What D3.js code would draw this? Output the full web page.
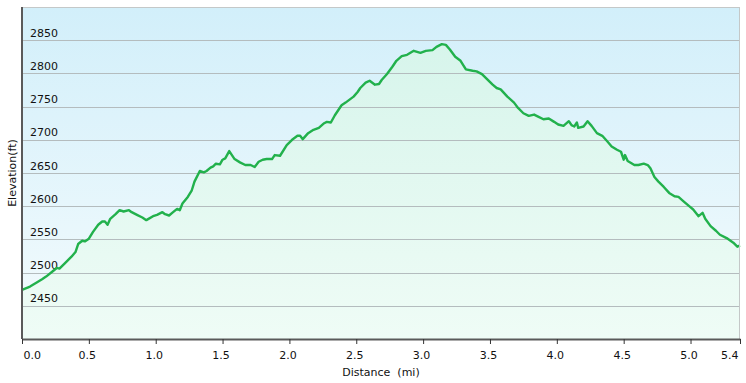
<!DOCTYPE html>
<html>
<head>
<meta charset="utf-8">
<script src="https://cdn.jsdelivr.net/npm/d3@7"></script>
<style>
  body { margin: 0; background: #fff; }
  svg text { font-family: Verdana, "DejaVu Sans", sans-serif; font-size: 11px; fill: #111; }
</style>
</head>
<body>
<div id="chart"></div>
<script>
/***** data *****/
var distances = [0.00,0.06,0.11,0.15,0.18,0.23,0.26,0.28,0.32,0.37,0.40,0.42,0.45,0.47,0.50,0.53,0.57,0.60,0.62,0.64,
  0.66,0.70,0.73,0.76,0.80,0.82,0.86,0.90,0.93,0.98,1.01,1.05,1.07,1.10,1.13,1.16,1.18,1.20,1.22,1.24,
  1.27,1.29,1.33,1.36,1.38,1.41,1.43,1.45,1.48,1.50,1.52,1.55,1.57,1.59,1.63,1.67,1.71,1.74,1.77,1.80,
  1.83,1.87,1.89,1.93,1.98,2.02,2.06,2.08,2.10,2.14,2.18,2.22,2.26,2.28,2.31,2.34,2.39,2.42,2.46,2.48,
  2.51,2.53,2.57,2.60,2.64,2.67,2.69,2.73,2.77,2.80,2.84,2.88,2.93,2.98,3.02,3.07,3.10,3.14,3.17,3.20,
  3.24,3.28,3.32,3.37,3.40,3.44,3.48,3.52,3.55,3.58,3.63,3.68,3.71,3.75,3.79,3.83,3.86,3.90,3.94,3.98,
  4.01,4.05,4.09,4.11,4.13,4.15,4.16,4.20,4.23,4.26,4.30,4.34,4.38,4.41,4.45,4.48,4.50,4.51,4.53,4.58,
  4.61,4.65,4.68,4.70,4.73,4.76,4.80,4.84,4.88,4.91,4.95,4.99,5.02,5.06,5.09,5.11,5.15,5.19,5.22,5.27,
  5.32,5.35,5.37];
var elevations = [2474,2479,2485,2490,2494,2502,2507,2506,2514,2524,2531,2543,2548,2547,2551,2561,2572,2577,2577,2572,
  2581,2588,2594,2592,2594,2591,2587,2583,2579,2585,2587,2591,2588,2586,2591,2596,2594,2604,2609,2614,
  2624,2637,2653,2651,2653,2658,2660,2664,2663,2670,2672,2683,2677,2671,2666,2662,2662,2659,2667,2670,
  2671,2671,2677,2676,2692,2700,2706,2706,2701,2710,2715,2718,2725,2727,2726,2737,2752,2756,2762,2765,
  2772,2778,2786,2789,2783,2784,2790,2799,2810,2819,2826,2828,2834,2831,2834,2835,2840,2844,2843,2836,
  2825,2819,2806,2804,2803,2799,2791,2783,2778,2776,2765,2756,2748,2740,2736,2738,2735,2731,2732,2727,
  2723,2721,2728,2722,2720,2726,2718,2720,2728,2721,2710,2706,2697,2690,2685,2682,2670,2677,2668,2662,
  2662,2664,2662,2657,2644,2637,2629,2620,2615,2614,2607,2600,2595,2585,2590,2581,2570,2563,2557,2552,
  2545,2539,2541];

var xTicks = [0, 0.5, 1.0, 1.5, 2.0, 2.5, 3.0, 3.5, 4.0, 4.5, 5.0];
var yTicks = [2450, 2500, 2550, 2600, 2650, 2700, 2750, 2800, 2850];

var profile = distances.map(function(d, i) { return {dist: d, elev: elevations[i]}; });

/***** chart parameters *****/
var width = 746;
var height = 383;
var margin = {top: 7, right: 6, bottom: 44, left: 22};
var plotW = width - margin.left - margin.right;
var plotH = height - margin.top - margin.bottom;

var svg = d3.select("#chart")
  .append("svg")
  .attr("width", width)
  .attr("height", height);

// gradients
var defs = svg.append("defs");
var bgGrad = defs.append("linearGradient")
  .attr("id", "bgGrad")
  .attr("x1", 0).attr("y1", 0).attr("x2", 0).attr("y2", 1);
bgGrad.append("stop").attr("offset", "0%").attr("stop-color", "#d2effa");
bgGrad.append("stop").attr("offset", "100%").attr("stop-color", "#f4fbfd");

var areaGrad = defs.append("linearGradient")
  .attr("id", "areaGrad")
  .attr("gradientUnits", "userSpaceOnUse")
  .attr("x1", 0).attr("y1", 0).attr("x2", 0).attr("y2", plotH);
areaGrad.append("stop").attr("offset", "0%").attr("stop-color", "#d4f4ea");
areaGrad.append("stop").attr("offset", "100%").attr("stop-color", "#effcf6");

var g = svg.append("g")
  .attr("transform", "translate(" + margin.left + "," + margin.top + ")");

//scales
var x = d3.scaleLinear()
  .domain([0, d3.max(distances)])
  .range([0, plotW]);
var y = d3.scaleLinear()
  .domain([2400, 2900])
  .range([plotH, 0]);

//plot background
g.append("rect")
  .attr("width", plotW)
  .attr("height", plotH)
  .attr("fill", "url(#bgGrad)");

//area under the profile
var area = d3.area()
  .x(function(d) { return x(d.dist); })
  .y0(plotH)
  .y1(function(d) { return y(d.elev); });
g.append("path")
  .datum(profile)
  .attr("d", area)
  .attr("fill", "url(#areaGrad)");

//gridlines + labels inside the plot
var yAxis = d3.axisLeft(y)
  .tickValues(yTicks)
  .tickSizeInner(-plotW)
  .tickSizeOuter(0)
  .tickFormat(d3.format("d"));
var yG = g.append("g").attr("class", "y axis").call(yAxis);
yG.select(".domain").remove();
yG.selectAll("line").attr("stroke", "#b4bcbe").attr("shape-rendering", "crispEdges");
yG.selectAll("text")
  .attr("x", 8)
  .attr("dy", "-4")
  .attr("text-anchor", "start")
  .style("font-size", "11px")
  .attr("fill", "#111");

//profile line
var line = d3.line()
  .x(function(d) { return x(d.dist); })
  .y(function(d) { return y(d.elev); });
g.append("path")
  .datum(profile)
  .attr("d", line)
  .attr("fill", "none")
  .attr("stroke", "#22b14c")
  .attr("stroke-width", 2.4)
  .attr("stroke-linejoin", "round");

//frame: top and right light, left dark
g.append("line").attr("x1", 0).attr("x2", plotW).attr("y1", 0.5).attr("y2", 0.5)
  .attr("stroke", "#c4c8c8");
g.append("line").attr("x1", plotW - 0.5).attr("x2", plotW - 0.5).attr("y1", 0).attr("y2", plotH)
  .attr("stroke", "#c4c8c8");
g.append("line").attr("x1", 0).attr("x2", 0).attr("y1", 0).attr("y2", plotH)
  .attr("stroke", "#5a5a5a").attr("stroke-width", 2);

//x axis
var xAxis = d3.axisBottom(x)
  .tickValues(xTicks.concat([x.domain()[1]]))
  .tickSizeInner(5)
  .tickSizeOuter(0)
  .tickPadding(7)
  .tickFormat(d3.format(".1f"));
var xG = g.append("g")
  .attr("class", "x axis")
  .attr("transform", "translate(0," + plotH + ")")
  .call(xAxis);
xG.select(".domain").attr("stroke", "#5a5a5a").attr("stroke-width", 2);
xG.selectAll("line").attr("stroke", "#333");
var nTicks = xTicks.length + 1;
xG.selectAll("text")
  .style("font-size", "11px")
  .attr("fill", "#111")
  .attr("text-anchor", function(d, i) { return i === 0 ? "start" : (i === nTicks - 1 ? "end" : "middle"); })
  .attr("dx", function(d, i) { return i === 0 ? 1 : (i === nTicks - 1 ? -2 : -2); });

//axis titles
svg.append("text")
  .attr("x", margin.left + plotW / 2)
  .attr("y", 376)
  .attr("text-anchor", "middle")
  .style("white-space", "pre")
  .text("Distance  (mi)");
svg.append("text")
  .attr("transform", "translate(16," + (margin.top + plotH / 2) + ") rotate(-90)")
  .attr("text-anchor", "middle")
  .text("Elevation(ft)");
</script>
</body>
</html>
